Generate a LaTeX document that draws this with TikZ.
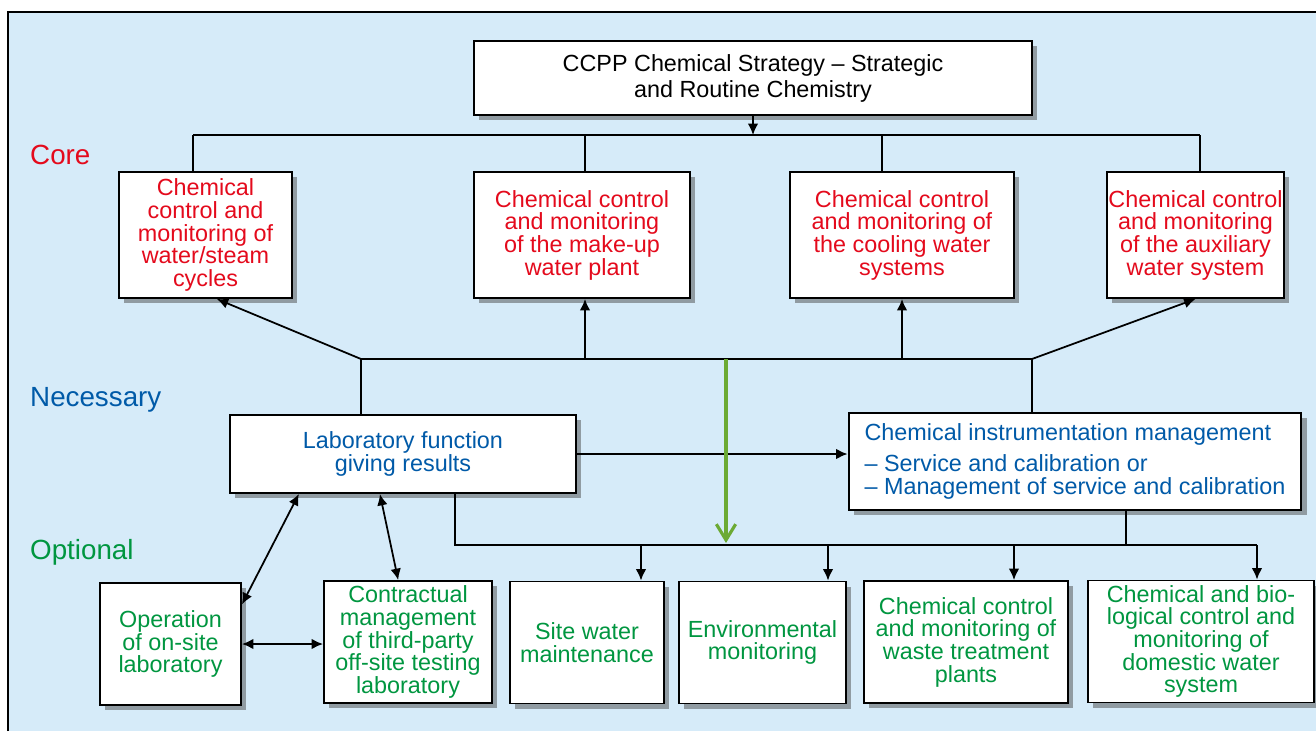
\documentclass[tikz,border=0pt]{standalone}
\usepackage{fontspec}
\setmainfont{Liberation Sans}
\usetikzlibrary{arrows.meta,shadows}
\definecolor{corered}{RGB}{228,10,28}
\definecolor{necblue}{RGB}{0,90,168}
\definecolor{optgreen}{RGB}{0,150,64}
\definecolor{panelblue}{RGB}{214,235,249}
\definecolor{flowgreen}{RGB}{108,170,52}

\begin{document}
\begin{tikzpicture}[x=0.02cm,y=-0.02cm,
	box/.style={draw=black,fill=white,line width=1.1pt,align=center,inner sep=0pt,
		font=\fontsize{13.3}{12.9}\selectfont,
		drop shadow={shadow xshift=3pt,shadow yshift=-3pt,fill=black!70,opacity=0.5}},
	corebox/.style={box,text=corered,minimum height=2.52cm},
	optbox/.style={box,text=optgreen,minimum height=2.44cm},
	level/.style={anchor=west,font=\fontsize{15.8}{16}\selectfont},
	conn/.style={draw=black,line width=1pt},
	arr/.style={conn,-{Latex[length=6.5pt,width=6pt]}},
	dbl/.style={conn,{Latex[length=6.5pt,width=6pt]}-{Latex[length=6.5pt,width=6pt]}}]

	\useasboundingbox (0,0) rectangle (1316,731);
	\fill[panelblue] (8,12) rectangle (1316,731);
	\draw[line width=0.6pt] (8,731) -- (8,12) -- (1316,12);

	\node[level,text=corered] (core) at (24,155) {Core};
	\node[level,text=necblue] (necessary) at (24,400) {Necessary};
	\node[level,text=optgreen] (optional) at (24,552) {Optional};

	\node[box,minimum width=11.16cm,minimum height=1.48cm,
		font=\fontsize{13.3}{14.8}\selectfont] (title) at (753,78)
		{CCPP Chemical Strategy -- Strategic\\and Routine Chemistry};

	\node[corebox,minimum width=3.46cm] (core1) at (205.5,235) {Chemical\\control and\\monitoring of\\water/steam\\cycles};
	\node[corebox,minimum width=4.32cm] (core2) at (582,235) {Chemical control\\and monitoring\\of the make-up\\water plant};
	\node[corebox,minimum width=4.48cm] (core3) at (902,235) {Chemical control\\and monitoring of\\the cooling water\\systems};
	\node[corebox,minimum width=3.54cm] (core4) at (1195.5,235) {Chemical control\\and monitoring\\of the auxiliary\\water system};

	\node[box,text=necblue,minimum width=6.92cm,minimum height=1.56cm] (lab) at (403,454) {Laboratory function\\giving results};
	\node[box,text=necblue,align=left,minimum width=9.06cm,minimum height=1.94cm] (instr) at (1075,461.5)
		{Chemical instrumentation management\\[5pt]-- Service and calibration or\\-- Management of service and calibration};

	\node[optbox,minimum width=2.82cm] (onsite) at (170.5,644) {Operation\\of on-site\\laboratory};
	\node[optbox,minimum width=3.36cm] (contract) at (408,642) {Contractual\\management\\of third-party\\off-site testing\\laboratory};
	\node[optbox,minimum width=3.08cm] (site) at (587,642.5) {Site water\\maintenance};
	\node[optbox,minimum width=3.34cm] (env) at (762.5,642.5) {Environmental\\monitoring};
	\node[optbox,minimum width=4.08cm] (waste) at (966,642) {Chemical control\\and monitoring of\\waste treatment\\plants};
	\node[optbox,minimum width=4.52cm] (domestic) at (1201,641.5) {Chemical and bio-\\logical control and\\monitoring of\\domestic water\\system};

	% strategy down to the core tasks
	\coordinate (t1) at (193,135);
	\coordinate (t2) at (585,135);
	\coordinate (t3) at (882,135);
	\coordinate (t4) at (1200,135);
	\draw[arr] (title.south) -- (title.south |- t1);
	\draw[conn] (t1) -- (t4);
	\draw[conn] (t1) -- (t1 |- core1.north);
	\draw[conn] (t2) -- (t2 |- core2.north);
	\draw[conn] (t3) -- (t3 |- core3.north);
	\draw[conn] (t4) -- (t4 |- core4.north);

	% necessary functions feed the core
	\coordinate (m1) at (361,359);
	\coordinate (m2) at (585,359);
	\coordinate (m3) at (902,359);
	\coordinate (m4) at (1032,359);
	\draw[conn] (m1) -- (m4);
	\draw[arr] (m1) -- (core1.-80);
	\draw[arr] (m2) -- (m2 |- core2.south);
	\draw[arr] (m3) -- (m3 |- core3.south);
	\draw[arr] (m4) -- (core4.south);
	\draw[conn] (m1) -- (m1 |- lab.north);
	\draw[conn] (m4) -- (m4 |- instr.north);
	\draw[arr] (lab.east) -- (lab.east -| instr.west);

	% optional functions
	\coordinate (b0) at (455,545);
	\coordinate (b1) at (641,545);
	\coordinate (b2) at (828,545);
	\coordinate (b3) at (1014,545);
	\coordinate (b4) at (1257,545);
	\coordinate (b5) at (1126,545);
	\draw[conn] (b0 |- lab.south) -- (b0) -- (b4);
	\draw[conn] (b5 |- instr.south) -- (b5);
	\draw[arr] (b1) -- (b1 |- site.north);
	\draw[arr] (b2) -- (b2 |- env.north);
	\draw[arr] (b3) -- (b3 |- waste.north);
	\draw[arr] (b4) -- (b4 |- domestic.north);

	\draw[dbl] (onsite.29) -- (lab.201.7);
	\draw[dbl] (contract.99) -- (lab.240.6);
	\draw[dbl] (onsite.east) -- (onsite.east -| contract.west);

	\coordinate (g0) at (726,359);
	\coordinate (g1) at (726,543);
	\draw[flowgreen,line width=1.8pt,-{Straight Barb[length=9pt,width=11pt]}] (g0) -- (g1);

\end{tikzpicture}
\end{document}
